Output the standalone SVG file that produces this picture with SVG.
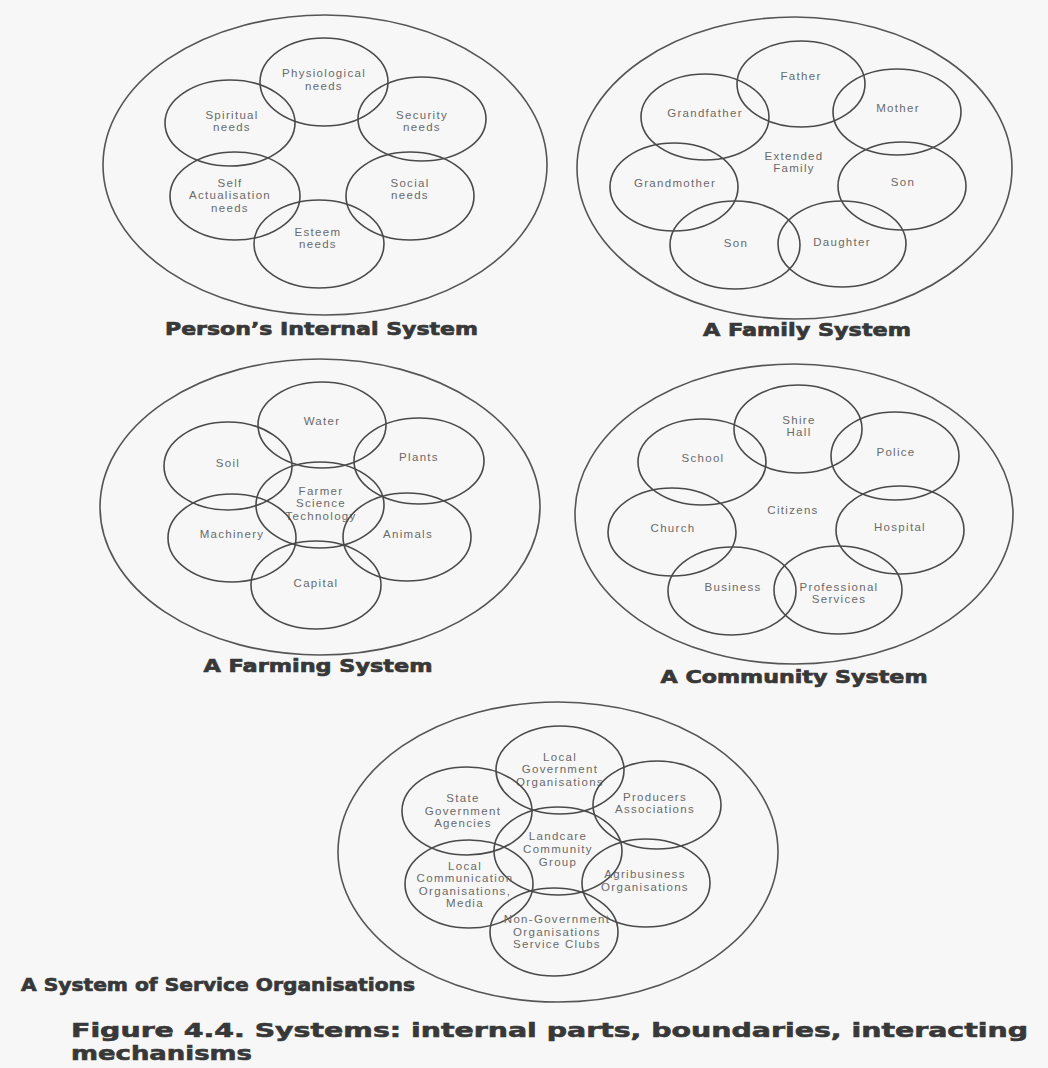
<svg xmlns="http://www.w3.org/2000/svg" width="1048" height="1068" viewBox="0 0 1048 1068">
<style>
.bg{fill:#f7f7f7}
.outer{fill:none;stroke:#555;stroke-width:1.6}
.node ellipse{fill:none;stroke:#4a4a4a;stroke-width:1.6}
.lbl{font-family:"Liberation Sans",Arial,sans-serif;font-size:11.5px;letter-spacing:1.3px;fill:#6a6a6a;text-anchor:middle}
.title{font-family:"DejaVu Sans","Liberation Sans",sans-serif;font-weight:bold;font-size:18px;fill:#383838;stroke:#383838;stroke-width:0.7;text-anchor:middle}
.cap{font-family:"DejaVu Sans","Liberation Sans",sans-serif;font-weight:bold;font-size:20px;fill:#383838;stroke:#383838;stroke-width:0.6}
</style>
<rect class="bg" x="0" y="0" width="1048" height="1068"/>
<g id="connectors"/>

<!-- System 1: Person's Internal System -->
<g id="sys-person">
  <ellipse class="outer" cx="325" cy="165" rx="222" ry="150"/>
  <g id="n-physio" class="node"><ellipse cx="324" cy="82" rx="64" ry="44"/>
    <text class="lbl" x="324" y="77">Physiological</text><text class="lbl" x="324" y="90">needs</text></g>
  <g id="n-spiritual" class="node"><ellipse cx="230" cy="123" rx="65" ry="43"/>
    <text class="lbl" x="232" y="119">Spiritual</text><text class="lbl" x="232" y="131">needs</text></g>
  <g id="n-security" class="node"><ellipse cx="422" cy="119" rx="64" ry="42"/>
    <text class="lbl" x="422" y="119">Security</text><text class="lbl" x="422" y="131">needs</text></g>
  <g id="n-selfact" class="node"><ellipse cx="235" cy="196" rx="65" ry="44"/>
    <text class="lbl" x="230" y="187">Self</text><text class="lbl" x="230" y="199">Actualisation</text><text class="lbl" x="230" y="212">needs</text></g>
  <g id="n-social" class="node"><ellipse cx="410" cy="196" rx="64" ry="44"/>
    <text class="lbl" x="410" y="187">Social</text><text class="lbl" x="410" y="199">needs</text></g>
  <g id="n-esteem" class="node"><ellipse cx="319" cy="244" rx="65" ry="44"/>
    <text class="lbl" x="318" y="236">Esteem</text><text class="lbl" x="318" y="248">needs</text></g>
  <text class="title" x="321.5" y="335" textLength="313" lengthAdjust="spacingAndGlyphs">Person’s Internal System</text>
</g>

<!-- System 2: A Family System -->
<g id="sys-family">
  <ellipse class="outer" cx="794.5" cy="168" rx="217.5" ry="151"/>
  <g id="n-father" class="node"><ellipse cx="801" cy="84" rx="64" ry="43"/>
    <text class="lbl" x="801" y="80">Father</text></g>
  <g id="n-grandfather" class="node"><ellipse cx="705" cy="117" rx="64" ry="43"/>
    <text class="lbl" x="705" y="117">Grandfather</text></g>
  <g id="n-mother" class="node"><ellipse cx="897" cy="112" rx="64" ry="43"/>
    <text class="lbl" x="898" y="112">Mother</text></g>
  <g id="n-grandmother" class="node"><ellipse cx="674" cy="187" rx="64" ry="44"/>
    <text class="lbl" x="675" y="187">Grandmother</text></g>
  <g id="n-son1" class="node"><ellipse cx="902" cy="186" rx="64" ry="44"/>
    <text class="lbl" x="903" y="186">Son</text></g>
  <g id="n-son2" class="node"><ellipse cx="735" cy="245" rx="65" ry="44"/>
    <text class="lbl" x="736" y="247">Son</text></g>
  <g id="n-daughter" class="node"><ellipse cx="842" cy="244" rx="64" ry="43"/>
    <text class="lbl" x="842" y="246">Daughter</text></g>
  <g id="n-extended" class="node">
    <text class="lbl" x="794" y="160">Extended</text><text class="lbl" x="794" y="172">Family</text></g>
  <text class="title" x="807" y="336" textLength="208" lengthAdjust="spacingAndGlyphs">A Family System</text>
</g>

<!-- System 3: A Farming System -->
<g id="sys-farming">
  <ellipse class="outer" cx="320" cy="507" rx="220" ry="148"/>
  <g id="n-water" class="node"><ellipse cx="322" cy="425" rx="64" ry="43"/>
    <text class="lbl" x="322" y="425">Water</text></g>
  <g id="n-soil" class="node"><ellipse cx="228" cy="466" rx="64" ry="44"/>
    <text class="lbl" x="228" y="467">Soil</text></g>
  <g id="n-plants" class="node"><ellipse cx="419" cy="461" rx="65" ry="43"/>
    <text class="lbl" x="419" y="461">Plants</text></g>
  <g id="n-farmer" class="node"><ellipse cx="320" cy="505" rx="64" ry="43"/>
    <text class="lbl" x="321" y="495">Farmer</text><text class="lbl" x="321" y="507">Science</text><text class="lbl" x="321" y="520">Technology</text></g>
  <g id="n-machinery" class="node"><ellipse cx="232" cy="538" rx="64" ry="44"/>
    <text class="lbl" x="232" y="538">Machinery</text></g>
  <g id="n-animals" class="node"><ellipse cx="407" cy="537" rx="64" ry="44"/>
    <text class="lbl" x="408" y="538">Animals</text></g>
  <g id="n-capital" class="node"><ellipse cx="316" cy="585" rx="65" ry="44"/>
    <text class="lbl" x="316" y="587">Capital</text></g>
  <text class="title" x="318" y="672" textLength="229" lengthAdjust="spacingAndGlyphs">A Farming System</text>
</g>

<!-- System 4: A Community System -->
<g id="sys-community">
  <ellipse class="outer" cx="794" cy="514" rx="219" ry="150"/>
  <g id="n-shire" class="node"><ellipse cx="798" cy="429" rx="64" ry="44"/>
    <text class="lbl" x="799" y="424">Shire</text><text class="lbl" x="799" y="436">Hall</text></g>
  <g id="n-school" class="node"><ellipse cx="702" cy="462" rx="64" ry="43"/>
    <text class="lbl" x="703" y="462">School</text></g>
  <g id="n-police" class="node"><ellipse cx="895" cy="456" rx="64" ry="44"/>
    <text class="lbl" x="896" y="456">Police</text></g>
  <g id="n-church" class="node"><ellipse cx="672" cy="532" rx="64" ry="44"/>
    <text class="lbl" x="673" y="532">Church</text></g>
  <g id="n-hospital" class="node"><ellipse cx="900" cy="530" rx="64" ry="44"/>
    <text class="lbl" x="900" y="531">Hospital</text></g>
  <g id="n-business" class="node"><ellipse cx="732" cy="591" rx="64" ry="44"/>
    <text class="lbl" x="733" y="591">Business</text></g>
  <g id="n-professional" class="node"><ellipse cx="838" cy="590" rx="64" ry="44"/>
    <text class="lbl" x="839" y="591">Professional</text><text class="lbl" x="839" y="603">Services</text></g>
  <g id="n-citizens" class="node">
    <text class="lbl" x="793" y="514">Citizens</text></g>
  <text class="title" x="794" y="683" textLength="267" lengthAdjust="spacingAndGlyphs">A Community System</text>
</g>

<!-- System 5: A System of Service Organisations -->
<g id="sys-service">
  <ellipse class="outer" cx="558" cy="852" rx="220" ry="150"/>
  <g id="n-localgov" class="node"><ellipse cx="560" cy="770" rx="64" ry="44"/>
    <text class="lbl" x="560" y="761">Local</text><text class="lbl" x="560" y="773">Government</text><text class="lbl" x="560" y="786">Organisations</text></g>
  <g id="n-stategov" class="node"><ellipse cx="467" cy="811" rx="65" ry="44"/>
    <text class="lbl" x="463" y="802">State</text><text class="lbl" x="463" y="815">Government</text><text class="lbl" x="463" y="827">Agencies</text></g>
  <g id="n-producers" class="node"><ellipse cx="657" cy="805" rx="64" ry="44"/>
    <text class="lbl" x="655" y="801">Producers</text><text class="lbl" x="655" y="813">Associations</text></g>
  <g id="n-landcare" class="node"><ellipse cx="558" cy="851" rx="64" ry="44"/>
    <text class="lbl" x="558" y="840">Landcare</text><text class="lbl" x="558" y="853">Community</text><text class="lbl" x="558" y="866">Group</text></g>
  <g id="n-localcomm" class="node"><ellipse cx="469" cy="884" rx="64" ry="44"/>
    <text class="lbl" x="465" y="870">Local</text><text class="lbl" x="465" y="882">Communication</text><text class="lbl" x="465" y="895">Organisations,</text><text class="lbl" x="465" y="907">Media</text></g>
  <g id="n-agribusiness" class="node"><ellipse cx="646" cy="883" rx="64" ry="44"/>
    <text class="lbl" x="645" y="878">Agribusiness</text><text class="lbl" x="645" y="891">Organisations</text></g>
  <g id="n-nongov" class="node"><ellipse cx="554" cy="932" rx="64" ry="44"/>
    <text class="lbl" x="557" y="923">Non-Government</text><text class="lbl" x="557" y="936">Organisations</text><text class="lbl" x="557" y="948">Service Clubs</text></g>
  <text class="title" x="218" y="991" textLength="394" lengthAdjust="spacingAndGlyphs">A System of Service Organisations</text>
</g>

<g id="caption">
  <text class="cap" x="71" y="1037" textLength="957" lengthAdjust="spacingAndGlyphs">Figure 4.4. Systems: internal parts, boundaries, interacting</text>
  <text class="cap" x="71" y="1060" textLength="181" lengthAdjust="spacingAndGlyphs">mechanisms</text>
</g>
</svg>
